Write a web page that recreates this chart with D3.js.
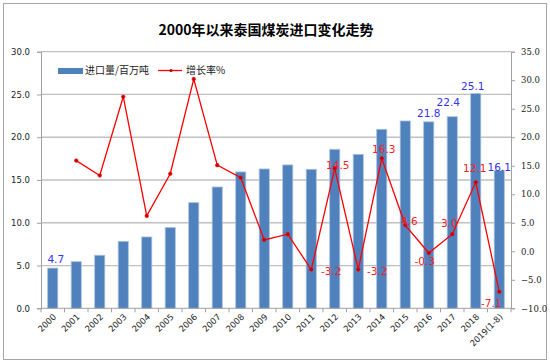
<!DOCTYPE html>
<html><head><meta charset="utf-8">
<script src="https://cdn.jsdelivr.net/npm/d3@7"></script>
<style>body{margin:0;background:#fff}svg{display:block}</style>
</head><body>
<svg id="c" width="550" height="364"></svg>
<script>
const categories = ["2000","2001","2002","2003","2004","2005","2006","2007","2008","2009","2010","2011","2012","2013","2014","2015","2016","2017","2018","2019(1-8)"];
const imports = [4.7,5.45,6.2,7.83,8.34,9.43,12.35,14.18,15.94,16.29,16.76,16.25,18.59,18.0,20.93,21.9,21.8,22.4,25.1,16.1];
const growth = [null,15.9,13.3,27.1,6.2,13.6,30.2,15.1,12.9,2.0,3.0,-3.2,14.5,-3.2,16.3,4.6,-0.3,3.0,12.1,-7.1];
const leftTicks = [0,5,10,15,20,25,30];
const rightTicks = [-10,-5,0,5,10,15,20,25,30,35];
const importLabels = {"2000":"4.7","2016":"21.8","2017":"22.4","2018":"25.1","2019(1-8)":"16.1"};
const growthLabels = {"2011":"-3.2","2012":"14.5","2013":"-3.2","2014":"16.3","2015":"4.6","2016":"-0.3","2017":"3.0","2018":"12.1","2019(1-8)":"-7.1"};
const title = "2000年以来泰国煤炭进口变化走势";
const legendNames = ["进口量/百万吨","增长率%"];

const svg = d3.select("#c");
const L = 41, R = 511, T = 51.7, B = 308.3;

svg.append("rect").attr("x",3.5).attr("y",3.5).attr("width",543).attr("height",356)
  .attr("fill","#fff").attr("stroke","#a6a6a6").attr("stroke-width",1);

svg.append("text").attr("x",266).attr("y",35).attr("text-anchor","middle")
  .attr("font-family","'Noto Sans CJK SC',sans-serif").attr("font-weight","bold")
  .attr("font-size",14).attr("fill","#000").text(title);

const x = d3.scaleBand().domain(categories).range([L,R]).paddingInner(0.57).paddingOuter(0.285);
const xb = d3.scaleBand().domain(categories).range([L,R]);
const yL = d3.scaleLinear().domain([0,30]).range([B,T]);
const yR = d3.scaleLinear().domain([-10,35]).range([B,T]);

// grid
svg.append("g").selectAll("line").data(leftTicks.filter(d=>d>0)).join("line")
  .attr("x1",L).attr("x2",R).attr("y1",d=>yL(d)).attr("y2",d=>yL(d))
  .attr("stroke","#c0c0c0").attr("stroke-width",1.3);

// left axis
const gl = svg.append("g").attr("transform",`translate(${L},0)`)
  .call(d3.axisLeft(yL).tickValues(leftTicks).tickFormat(d3.format(".1f")).tickSize(4).tickPadding(7));
gl.select(".domain").attr("stroke","#a0a0a0");
gl.selectAll(".tick line").attr("stroke","#a0a0a0");
gl.selectAll("text").attr("font-family","'DejaVu Sans',sans-serif").attr("font-size",8.5).attr("fill","#222");

// right axis
const gr = svg.append("g").attr("transform",`translate(${R},0)`)
  .call(d3.axisRight(yR).tickValues(rightTicks).tickFormat(d3.format(".1f")).tickSize(4).tickPadding(6));
gr.select(".domain").attr("stroke","#a0a0a0");
gr.selectAll(".tick line").attr("stroke","#a0a0a0");
gr.selectAll("text").attr("font-family","'DejaVu Serif',serif").attr("font-size",8.5).attr("fill","#222");

// bars
svg.append("g").selectAll("rect").data(categories).join("rect")
  .attr("x",d=>x(d)).attr("width",x.bandwidth())
  .attr("y",(d,i)=>yL(imports[i])).attr("height",(d,i)=>yL(0)-yL(imports[i]))
  .attr("fill","#4f81bd").attr("stroke","#a7c0de").attr("stroke-width",0.8);

// x axis
const gx = svg.append("g").attr("transform",`translate(0,${B})`);
gx.append("line").attr("x1",L).attr("x2",R).attr("stroke","#a0a0a0");
gx.selectAll("line.t").data(d3.range(categories.length+1)).join("line").attr("class","t")
  .attr("x1",i=>L+i*xb.step()).attr("x2",i=>L+i*xb.step()).attr("y1",0).attr("y2",4).attr("stroke","#a0a0a0");
gx.selectAll("text").data(categories).join("text")
  .attr("transform",d=>`translate(${xb(d)+xb.bandwidth()/2+4},${9}) rotate(-45)`)
  .attr("text-anchor","end").attr("font-family","'DejaVu Sans',sans-serif").attr("font-size",8.5).attr("fill","#222")
  .text(d=>d);

// line
const pts = categories.map((c,i)=>({c,v:growth[i]})).filter(d=>d.v!==null);
const cx = d=>xb(d)+xb.bandwidth()/2;
svg.append("path").datum(pts)
  .attr("d",d3.line().x(d=>cx(d.c)).y(d=>yR(d.v)))
  .attr("fill","none").attr("stroke","#ff0000").attr("stroke-width",1.3);
svg.append("g").selectAll("circle").data(pts).join("circle")
  .attr("cx",d=>cx(d.c)).attr("cy",d=>yR(d.v)).attr("r",1.8)
  .attr("fill","#c00000").attr("stroke","#ff0000").attr("stroke-width",0.6);

// bar labels
const blOff = {"2000":[3,-5],"2016":[0,-5],"2017":[-4,-11],"2018":[-3,-4],"2019(1-8)":[0,-0]};
svg.append("g").selectAll("text").data(Object.keys(importLabels)).join("text")
  .attr("x",d=>cx(d)+blOff[d][0]).attr("y",d=>yL(imports[categories.indexOf(d)])+blOff[d][1])
  .attr("text-anchor","middle").attr("font-family","'DejaVu Sans',sans-serif").attr("font-size",10.5)
  .attr("fill","#3333ee").text(d=>importLabels[d]);

// growth labels
const glOff = {"2011":[20,5],"2012":[3,0],"2013":[19,5],"2014":[2,-5],"2015":[4,0],"2016":[-4,12],"2017":[-3,-7],"2018":[-1,-10],"2019(1-8)":[-8,15]};
svg.append("g").selectAll("text").data(Object.keys(growthLabels)).join("text")
  .attr("x",d=>cx(d)+glOff[d][0]).attr("y",d=>yR(growth[categories.indexOf(d)])+glOff[d][1])
  .attr("text-anchor","middle").attr("font-family","'DejaVu Sans',sans-serif").attr("font-size",10.5)
  .attr("fill","#ff2020").text(d=>growthLabels[d]);

// legend
const lg = svg.append("g");
lg.append("rect").attr("x",58).attr("y",68).attr("width",25).attr("height",6).attr("fill","#4f81bd");
lg.append("text").attr("x",85).attr("y",74).attr("font-family","'Noto Sans CJK SC',sans-serif").attr("font-size",10).attr("fill","#222").text(legendNames[0]);
lg.append("line").attr("x1",158).attr("x2",182).attr("y1",70.5).attr("y2",70.5).attr("stroke","#ff0000").attr("stroke-width",1.3);
lg.append("circle").attr("cx",171).attr("cy",70.5).attr("r",1.6).attr("fill","#c00000");
lg.append("text").attr("x",186).attr("y",74).attr("font-family","'Noto Sans CJK SC',sans-serif").attr("font-size",10).attr("fill","#222").text(legendNames[1]);
</script>
</body></html>
